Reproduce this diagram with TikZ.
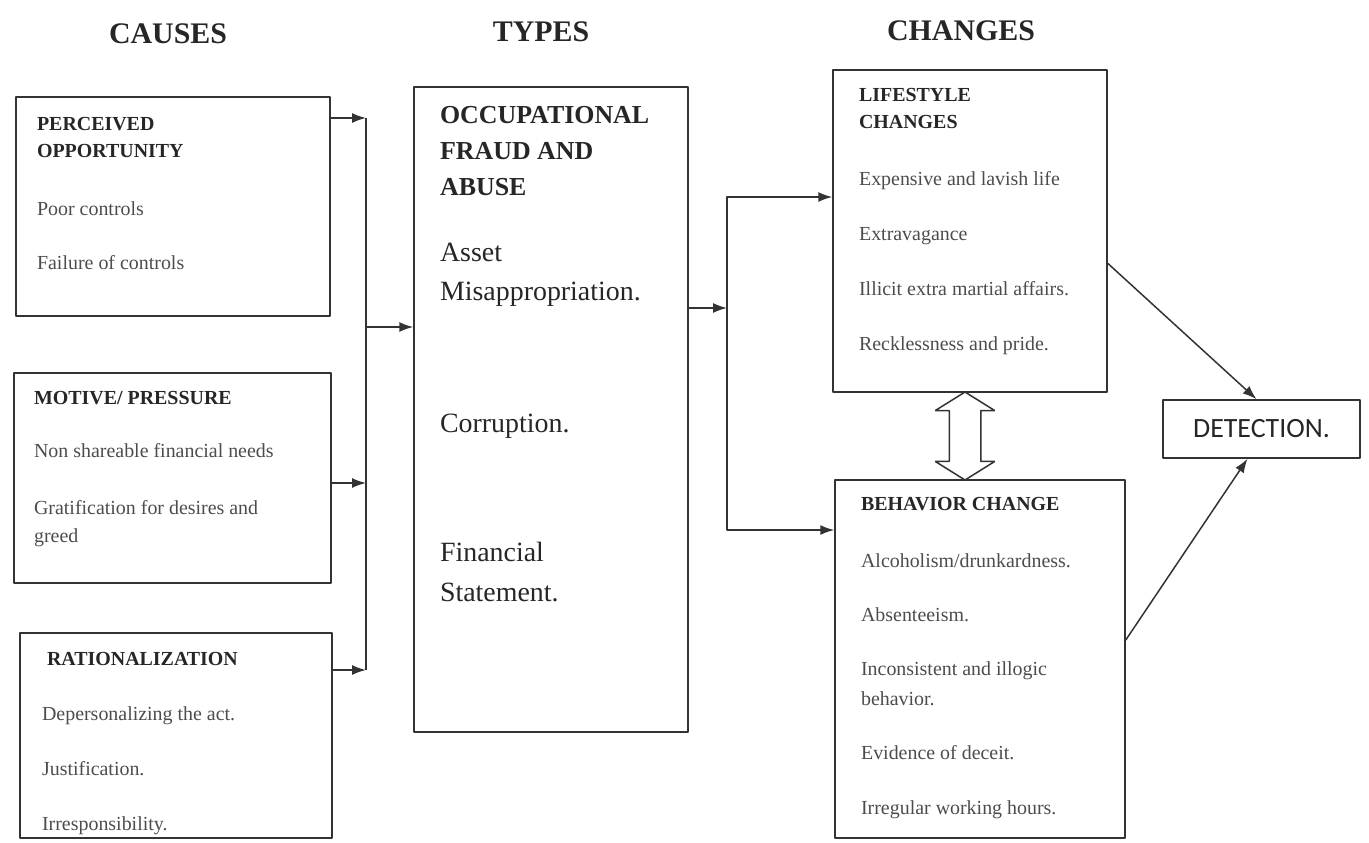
\documentclass[tikz,border=0pt]{standalone}
\usepackage{fontspec}
\setmainfont{Liberation Serif}
\newfontfamily\detfont{Carlito}
\usetikzlibrary{arrows.meta,shapes.arrows,calc}
\begin{document}
\begin{tikzpicture}[x=1bp,y=-1bp,>={Latex[length=14bp,width=10bp]},line join=bevel,
  box/.style={draw=black!80,line width=1.5bp,inner sep=0pt},
  hdr/.style={anchor=base,font=\bfseries\fontsize{30}{32}\selectfont,text=black!85},
  ttl/.style={anchor=base west,font=\bfseries\fontsize{20}{22}\selectfont,text=black!85},
  itm/.style={anchor=base west,font=\fontsize{20}{22}\selectfont,text=black!70},
  bigttl/.style={anchor=base west,font=\bfseries\fontsize{26}{28}\selectfont,text=black!85},
  big/.style={anchor=base west,font=\fontsize{28}{30}\selectfont,text=black!85}]
  \useasboundingbox (0,0) rectangle (1369,842);
  \pgfsetlinewidth{1.5bp}
%%
  % Headers
  \node[hdr] (hcause) at (168,43) {CAUSES};
  \node[hdr] (htype) at (541,41) {TYPES};
  \node[hdr] (hchange) at (961,40) {CHANGES};
  % Node: opp
  \node[box,minimum width=314bp,minimum height=219bp] (opp) at (173,206.5) {};
  \node[ttl] (oppa) at (33,130) {PERCEIVED};
  \node[ttl] (oppb) at (33,157) {OPPORTUNITY};
  \node[itm] (oppc) at (33,215) {Poor controls};
  \node[itm] (oppd) at (33,269) {Failure of controls};
  % Node: mot
  \node[box,minimum width=317bp,minimum height=210bp] (mot) at (172.5,478) {};
  \node[ttl] (mota) at (30,404) {MOTIVE/ PRESSURE};
  \node[itm] (motb) at (30,457) {Non shareable financial needs};
  \node[itm] (motc) at (30,514) {Gratification for desires and};
  \node[itm] (motd) at (30,542) {greed};
  % Node: rat
  \node[box,minimum width=312bp,minimum height=205bp] (rat) at (176,735.5) {};
  \node[ttl] (rata) at (43,665) {RATIONALIZATION};
  \node[itm] (ratb) at (38,720) {Depersonalizing the act.};
  \node[itm] (ratc) at (38,775) {Justification.};
  \node[itm] (ratd) at (38,830) {Irresponsibility.};
  % Node: types
  \node[box,minimum width=274bp,minimum height=645bp] (types) at (551,409.5) {};
  \node[bigttl] (typa) at (436,123) {OCCUPATIONAL};
  \node[bigttl] (typb) at (436,159) {FRAUD AND};
  \node[bigttl] (typc) at (436,195) {ABUSE};
  \node[big] (typd) at (436,261) {Asset};
  \node[big] (type) at (436,300) {Misappropriation.};
  \node[big] (typf) at (436,432) {Corruption.};
  \node[big] (typg) at (436,561) {Financial};
  \node[big] (typh) at (436,601) {Statement.};
  % Node: life
  \node[box,minimum width=274bp,minimum height=322bp] (life) at (970,231) {};
  \node[ttl] (lifa) at (855,101) {LIFESTYLE};
  \node[ttl] (lifb) at (855,128) {CHANGES};
  \node[itm] (lifc) at (855,185) {Expensive and lavish life};
  \node[itm] (lifd) at (855,240) {Extravagance};
  \node[itm] (life2) at (855,295) {Illicit extra martial affairs.};
  \node[itm] (liff) at (855,350) {Recklessness and pride.};
  % Node: beh
  \node[box,minimum width=290bp,minimum height=358bp] (beh) at (980,659) {};
  \node[ttl] (beha) at (857,510) {BEHAVIOR CHANGE};
  \node[itm] (behb) at (857,567) {Alcoholism/drunkardness.};
  \node[itm] (behc) at (857,621) {Absenteeism.};
  \node[itm] (behd) at (857,675) {Inconsistent and illogic};
  \node[itm] (behe) at (857,705) {behavior.};
  \node[itm] (behf) at (857,759) {Evidence of deceit.};
  \node[itm] (behg) at (857,814) {Irregular working hours.};
  % Node: det
  \node[box,font=\detfont\fontsize{28}{30}\selectfont,text=black!85,
    minimum width=197bp,minimum height=58bp] (det) at (1261.5,429) {DETECTION.};
  % Node: link
  \node[draw=black!80,line width=1.5bp,double arrow,shape border rotate=90,
    inner sep=15bp,minimum height=88bp,minimum width=58bp,
    double arrow head extend=14bp,double arrow tip angle=116] (link) at (965,436) {};
  % Junctions
  \coordinate (jtop) at (366,118);
  \coordinate (jmid) at (366,483);
  \coordinate (jbot) at (366,670);
  \coordinate (jout) at (366,327);
  \coordinate (ktop) at (727,197);
  \coordinate (kmid) at (727,308);
  \coordinate (kbot) at (727,530);
\pgfsetcolor{black!80}
  % Edge: opp -> types
  \draw [->] (opp.east |- jtop) -- (jtop);
  \draw (jtop) -- (jbot);
  % Edge: mot -> types
  \draw [->] (mot.east |- jmid) -- (jmid);
  % Edge: rat -> types
  \draw [->] (rat.east |- jbot) -- (jbot);
  \draw [->] (jout) -- (types.west |- jout);
  % Edge: types -> life
  \draw [->] (types.east |- kmid) -- (kmid);
  \draw [->] (kmid) -- (ktop) -- (life.west |- ktop);
  % Edge: types -> beh
  \draw [->] (kmid) -- (kbot) -- (beh.west |- kbot);
  % Edge: life -> det
  \draw [->] ($(life.north east)!0.6!(life.south east)$) -- ([xshift=-5bp]det.north);
  % Edge: beh -> det
  \draw [->] ([yshift=19bp]beh.east) -- ([xshift=-14bp]det.south);
%
\end{tikzpicture}
\end{document}
